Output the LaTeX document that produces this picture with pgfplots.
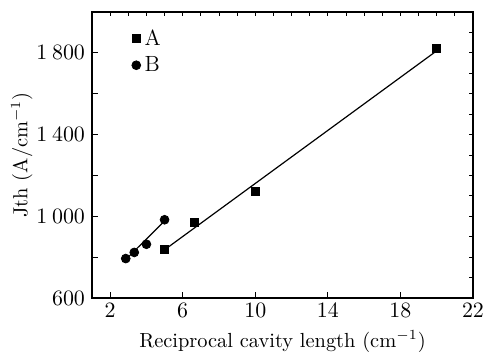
\documentclass[border=0pt]{standalone}
\usepackage{pgfplots}
\pgfplotsset{compat=1.18}
\begin{document}
\begin{tikzpicture}
\begin{axis}[
  name=main,
  scale only axis,
  width=190.5pt, height=143pt,
  xmin=1, xmax=22, ymin=600, ymax=2000,
  xtick={2,6,10,14,18,22},
  ytick={600,1000,1400,1800},
  minor ytick={800,1200,1600},
  xtick pos=bottom, ytick pos=left,
  tick align=inside,
  major tick length=3pt, minor tick length=3pt,
  tick style={black, line width=0.5pt},
  axis line style={line width=0.6pt},
  /pgf/number format/1000 sep={\:},
  ticklabel style={font=\fontsize{11}{13}\selectfont},
  xticklabel style={yshift=1pt},
  xlabel={Reciprocal cavity length (cm$^{-1}$)},
  ylabel={Jth (A/cm$^{-1}$)},
  label style={font=\fontsize{10.2}{12}\selectfont},
  xlabel style={yshift=0pt},
  ylabel style={yshift=-5pt},
  legend style={draw=none, fill=none, at={(rel axis cs:0.08,0.98)}, anchor=north west, xshift=1.5pt, yshift=-1.7pt, row sep=0pt, font=\fontsize{11}{13}\selectfont},
  legend cell align=left,
]
\addplot[only marks, mark=square*, mark size=2pt, black] coordinates {
  (5,840) (6.67,970) (10,1120) (20,1820)
};
\addlegendentry{A}
\addplot[only marks, mark=*, mark size=2.2pt, black] coordinates {
  (2.86,793) (3.33,823) (4,863) (5,983)
};
\addlegendentry{B}
\addplot[black, line width=0.6pt, forget plot] coordinates {(5,836) (20,1810)};
\addplot[black, line width=0.6pt, forget plot] coordinates {(2.86,788) (5,977)};
\end{axis}
\begin{scope}[overlay]
\begin{axis}[
  scale only axis,
  width=190.5pt, height=143pt,
  xmin=1, xmax=22, ymin=600, ymax=2000,
  xtick={1,...,22},
  ytick={600,700,...,2000},
  xtick pos=top, ytick pos=right,
  xticklabels={}, yticklabels={},
  tick align=inside,
  major tick length=2pt,
  tick style={black, line width=0.4pt},
  axis line style={line width=0.6pt},
]
\end{axis}
\end{scope}
\pgfresetboundingbox
\useasboundingbox ([xshift=-46pt,yshift=6pt]main.north west) rectangle ([xshift=5pt,yshift=-27pt]main.south east);
\end{tikzpicture}
\end{document}
